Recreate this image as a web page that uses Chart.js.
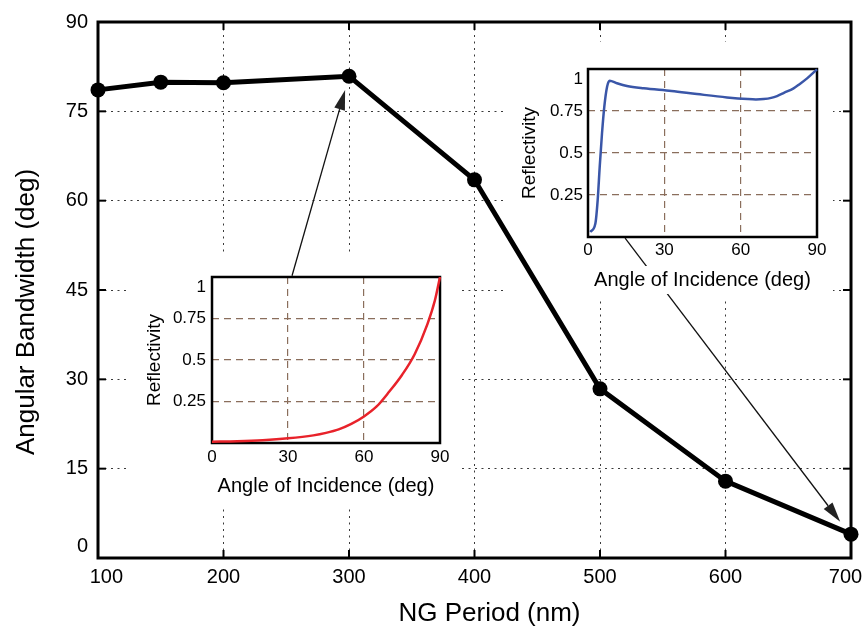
<!DOCTYPE html>
<html>
<head>
<meta charset="utf-8">
<script src="https://cdn.jsdelivr.net/npm/chart.js@4.4.0/dist/chart.umd.min.js"></script>
<style>
  html, body { margin: 0; padding: 0; background: #fff; }
  #wrap { position: relative; width: 865px; height: 633px; }
  canvas { position: absolute; }
</style>
</head>
<body>
<div id="wrap">
  <canvas id="main"></canvas>
  <canvas id="inset1"></canvas>
  <canvas id="inset2"></canvas>
</div>
<script>
// main curve: angular bandwidth vs NG period
const periods = [100, 150, 200, 300, 400, 500, 600, 700];
const bandwidth = [78.6, 79.9, 79.8, 80.9, 63.5, 28.4, 12.9, 4.0];

// inset at 300 nm (red)
const angles300 = [0, 10, 20, 30, 40, 45, 50, 55, 60, 65, 70, 75, 80, 85, 88, 90];
const refl300 = [0.008, 0.011, 0.017, 0.028, 0.046, 0.061, 0.082, 0.115, 0.16, 0.22, 0.31, 0.41, 0.535, 0.715, 0.86, 1.0];

// inset at 700 nm (blue)
const angles700 = [0.9, 2.9, 3.8, 4.6, 5.5, 6.4, 7.5, 8.5, 11.4, 15.3, 21.9, 32.8, 42.8, 54.6, 62.8, 66, 69, 72, 74.3, 77, 80.8, 83, 86.1, 90];
const refl700 = [0.03, 0.08, 0.219, 0.417, 0.616, 0.775, 0.895, 0.93, 0.915, 0.899, 0.885, 0.869, 0.851, 0.831, 0.821, 0.819, 0.821, 0.828, 0.839, 0.858, 0.885, 0.908, 0.944, 0.998];

// arrows, in main-chart data units [period, bandwidth]
const arrowFrom = [[254.6, 47.4], [520, 53.7]];
const arrowTo = [[296.9, 78.6], [691.4, 6.1]];

const FONT = 'Liberation Sans, Arial, Helvetica, sans-serif';
Chart.defaults.font.family = FONT;
Chart.defaults.color = '#000';

const W = 865, H = 633;
const insetBoxes = [
  { left: 130, top: 253, width: 328, height: 252 },
  { left: 505, top: 42, width: 328, height: 256 }
];

function line(ctx, x0, y0, x1, y1) {
  ctx.beginPath();
  ctx.moveTo(x0, y0);
  ctx.lineTo(x1, y1);
  ctx.stroke();
}

function drawArrow(ctx, x0, y0, x1, y1) {
  const ang = Math.atan2(y1 - y0, x1 - x0);
  const len = 20, half = 5.5;
  const bx = x1 - len * Math.cos(ang), by = y1 - len * Math.sin(ang);
  ctx.lineWidth = 1.3;
  line(ctx, x0, y0, bx, by);
  ctx.beginPath();
  ctx.moveTo(x1, y1);
  ctx.lineTo(bx + half * Math.sin(ang), by - half * Math.cos(ang));
  ctx.lineTo(bx - half * Math.sin(ang), by + half * Math.cos(ang));
  ctx.closePath();
  ctx.fill();
}

// keep the tick labels from pushing the plot area inwards
function noEdgePad(s) {
  s.paddingLeft = 0;
  s.paddingRight = 0;
  s.paddingTop = 0;
  s.paddingBottom = 0;
}

const mainDecor = {
  id: 'mainDecor',
  beforeDatasetsDraw(chart) {
    const { ctx, chartArea: a, scales: { x, y } } = chart;
    ctx.save();
    // blank out the grid behind the insets
    ctx.fillStyle = '#fff';
    insetBoxes.forEach(b => ctx.fillRect(b.left, b.top, b.width, b.height));
    // inward ticks on all four sides
    ctx.strokeStyle = '#000';
    ctx.lineWidth = 2;
    x.ticks.forEach(t => {
      const px = x.getPixelForValue(t.value);
      line(ctx, px, a.bottom, px, a.bottom - 8);
      line(ctx, px, a.top, px, a.top + 8);
    });
    y.ticks.forEach(t => {
      const py = y.getPixelForValue(t.value);
      line(ctx, a.left, py, a.left + 8, py);
      line(ctx, a.right, py, a.right - 8, py);
    });
    ctx.lineWidth = 3;
    ctx.strokeRect(a.left, a.top, a.width, a.height);
    ctx.restore();
  },
  afterDatasetsDraw(chart) {
    const { ctx, scales: { x, y } } = chart;
    ctx.save();
    ctx.strokeStyle = '#111';
    ctx.fillStyle = '#222';
    arrowFrom.forEach((f, i) => {
      const t = arrowTo[i];
      drawArrow(ctx, x.getPixelForValue(f[0]), y.getPixelForValue(f[1]),
        x.getPixelForValue(t[0]), y.getPixelForValue(t[1]));
    });
    ctx.restore();
  },
  afterDraw(chart) {
    // axis titles sit a bit off-centre in the original
    const { ctx, chartArea: a } = chart;
    ctx.save();
    ctx.font = '26px ' + FONT;
    ctx.fillStyle = '#000';
    ctx.textAlign = 'center';
    ctx.textBaseline = 'middle';
    ctx.fillText('NG Period (nm)', (a.left + a.right) / 2 + 15, 614);
    ctx.translate(27, (a.top + a.bottom) / 2 + 22);
    ctx.rotate(-Math.PI / 2);
    ctx.fillText('Angular Bandwidth (deg)', 0, 0);
    ctx.restore();
  }
};

const mainCanvas = document.getElementById('main');
mainCanvas.width = W;
mainCanvas.height = H;
mainCanvas.style.left = '0px';
mainCanvas.style.top = '0px';

new Chart(mainCanvas, {
  type: 'line',
  data: {
    datasets: [{
      data: periods.map((p, i) => ({ x: p, y: bandwidth[i] })),
      borderColor: '#000',
      borderWidth: 5,
      pointRadius: 7.5,
      pointBackgroundColor: '#000',
      pointBorderWidth: 0,
      tension: 0,
      clip: false
    }]
  },
  options: {
    responsive: false,
    animation: false,
    events: [],
    layout: { padding: { left: 0, right: 14, top: 22, bottom: 0 } },
    plugins: { legend: { display: false }, tooltip: { enabled: false } },
    scales: {
      x: {
        type: 'linear',
        min: 100,
        max: 700,
        ticks: {
          stepSize: 100, padding: 7, font: { size: 20 }, maxRotation: 0, autoSkip: false,
          // end labels are nudged inwards in the original
          callback: v => (v === 100 ? '   100' : v === 700 ? '700  ' : String(v))
        },
        grid: { color: '#3a3a3a', lineWidth: 1, drawTicks: false },
        border: { display: false, dash: [2, 4.5] },
        afterFit: s => { s.height = 75; noEdgePad(s); }
      },
      y: {
        min: 0,
        max: 90,
        ticks: {
          stepSize: 15, padding: 10, font: { size: 20 }, autoSkip: false,
          callback: v => (v === 0 ? ['0', ''] : String(v))
        },
        grid: { color: '#3a3a3a', lineWidth: 1, drawTicks: false },
        border: { display: false, dash: [2, 4.5] },
        afterFit: s => { s.width = 98; noEdgePad(s); }
      }
    }
  },
  plugins: [mainDecor]
});

function makeInset(id, box, xs, ys, color, pad) {
  const cv = document.getElementById(id);
  cv.width = box.width;
  cv.height = box.height;
  cv.style.left = box.left + 'px';
  cv.style.top = box.top + 'px';

  const decor = {
    id: 'insetDecor',
    beforeDraw(chart) {
      // white patch behind the x title so arrows pass beneath it
      const { ctx, chartArea: a } = chart;
      ctx.save();
      ctx.font = '20px ' + FONT;
      const w = ctx.measureText('Angle of Incidence (deg)').width;
      const cy = box.height - pad.titleBottom - 12;
      ctx.fillStyle = '#fff';
      ctx.fillRect((a.left + a.right) / 2 - w / 2 - 3, cy - 14, w + 6, 28);
      ctx.restore();
    },
    beforeDatasetsDraw(chart) {
      const { ctx, chartArea: a } = chart;
      ctx.save();
      ctx.strokeStyle = '#000';
      ctx.lineWidth = 2.5;
      ctx.strokeRect(a.left, a.top, a.width, a.height);
      ctx.restore();
    }
  };

  return new Chart(cv, {
    type: 'scatter',
    data: {
      datasets: [{
        data: xs.map((v, i) => ({ x: v, y: ys[i] })),
        showLine: true,
        borderColor: color,
        borderWidth: 2.5,
        pointRadius: 0,
        cubicInterpolationMode: 'monotone',
        clip: false
      }]
    },
    options: {
      responsive: false,
      animation: false,
      events: [],
      layout: { padding: { left: 0, right: pad.right, top: pad.top, bottom: 0 } },
      plugins: { legend: { display: false }, tooltip: { enabled: false } },
      scales: {
        x: {
          type: 'linear',
          min: 0,
          max: 90,
          ticks: { stepSize: 30, padding: pad.xTick, font: { size: 17 }, maxRotation: 0, autoSkip: false },
          grid: { color: '#8a6e5c', lineWidth: 1.2, drawTicks: false },
          border: { display: false, dash: [7, 5] },
          title: { display: true, text: 'Angle of Incidence (deg)', font: { size: 20 }, padding: { top: 0, bottom: pad.titleBottom } },
          afterFit: s => { s.height = pad.xHeight; noEdgePad(s); }
        },
        y: {
          min: 0,
          max: 1,
          ticks: {
            stepSize: 0.25, padding: pad.yTick, font: { size: 17 }, autoSkip: false,
            callback: v => (v === 0 ? '' : v === 1 ? ['', '1'] : String(v))
          },
          grid: { color: '#8a6e5c', lineWidth: 1.2, drawTicks: false },
          border: { display: false, dash: [7, 5] },
          title: { display: true, text: 'Reflectivity', font: { size: 19 }, padding: { top: 13, bottom: 0 } },
          afterFit: s => { s.width = pad.yWidth; noEdgePad(s); }
        }
      }
    },
    plugins: [decor]
  });
}

makeInset('inset1', insetBoxes[0], angles300, refl300, '#e8222a',
  { top: 24, right: 18, xHeight: 62, yWidth: 82, xTick: 4, yTick: 6, titleBottom: 7 });
makeInset('inset2', insetBoxes[1], angles700, refl700, '#3a56a8',
  { top: 27, right: 16, xHeight: 61, yWidth: 83, xTick: 3, yTick: 5, titleBottom: 6 });
</script>
</body>
</html>
